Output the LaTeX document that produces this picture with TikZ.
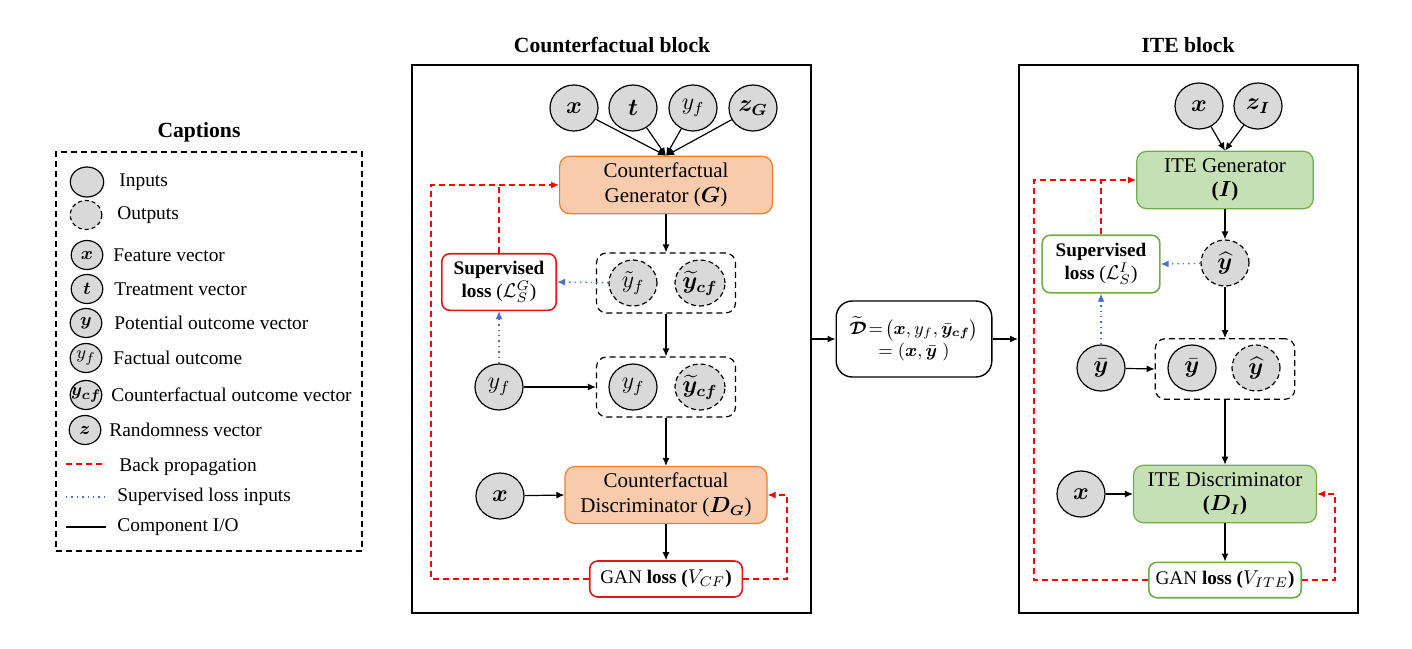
\documentclass[tikz,border=0pt]{standalone}
\usepackage{fontspec}
\setmainfont{Liberation Serif}
\usepackage{amsmath}
\usepackage{bm}
\usepackage{tikz}
\usetikzlibrary{shapes, arrows.meta, positioning, calc}

\definecolor{cfFill}{HTML}{F8CBAD}
\definecolor{cfLine}{HTML}{ED7D31}
\definecolor{iteFill}{HTML}{C5E0B4}
\definecolor{iteLine}{HTML}{70AD47}
\definecolor{bpRed}{HTML}{FF0000}
\definecolor{lossRed}{HTML}{E3161B}
\definecolor{supBlue}{HTML}{4472C4}
\definecolor{inGray}{HTML}{D9D9D9}

\begin{document}
\begin{tikzpicture}[x=0.5pt, y=-0.5pt, >={Latex[length=4pt, width=3.5pt]},
    font=\fontsize{10.5}{12.2}\selectfont,
    innode/.style={draw, ellipse, fill=inGray, line width=0.6pt, inner sep=0pt, minimum width=24pt, minimum height=23pt, font=\fontsize{11.5}{13}\selectfont},
    outnode/.style={innode, dash pattern=on 2.5pt off 1.5pt},
    legin/.style={innode, minimum width=15.8pt, minimum height=14.5pt, font=\fontsize{9.5}{10}\selectfont},
    legout/.style={legin, dash pattern=on 2pt off 1.5pt},
    legtext/.style={anchor=west, inner sep=0pt, font=\fontsize{9.7}{11}\selectfont},
    blocktitle/.style={font=\fontsize{10.8}{12}\selectfont\bfseries},
    blockframe/.style={draw, line width=1pt, minimum height=274pt},
    grpbox/.style={draw, dash pattern=on 3pt off 2pt, line width=0.6pt, rounded corners=5pt, minimum width=69.5pt, minimum height=30pt},
    cfbox/.style={draw=cfLine, fill=cfFill, line width=0.6pt, rounded corners=5pt, align=center, minimum height=28.7pt},
    itebox/.style={draw=iteLine, fill=iteFill, line width=0.6pt, rounded corners=5pt, align=center, minimum height=28.7pt},
    cfloss/.style={draw=lossRed, fill=white, line width=0.8pt, rounded corners=4pt, align=center, inner sep=1pt, font=\fontsize{9.6}{11.5}\selectfont},
    iteloss/.style={cfloss, draw=iteLine},
    backprop/.style={draw=bpRed, dash pattern=on 3pt off 2pt, line width=0.7pt},
    supin/.style={draw=supBlue, dotted, line width=0.7pt},
    io/.style={draw, line width=0.6pt}
]
    \useasboundingbox (0,0) rectangle (1412,648);

    % Captions
    \node[blocktitle] (captitle) at (199,132) {Captions};
    \node[draw, dash pattern=on 3pt off 2pt, line width=0.7pt, minimum width=153pt, minimum height=199.5pt] (capbox) at (209,351.5) {};
    \node[legin, minimum width=16.7pt, minimum height=15pt] (lgin) at (87,182) {};
    \node[legtext] (lgintxt) at (119,182) {Inputs};
    \node[legout] (lgout) at (86,215) {};
    \node[legtext] (lgouttxt) at (117,215) {Outputs};
    \node[legin] (lgx) at (87,255) {$\bm{x}$};
    \node[legtext] (lgxtxt) at (113,255) {Feature vector};
    \node[legin] (lgt) at (87,289) {$\bm{t}$};
    \node[legtext] (lgttxt) at (114,289) {Treatment vector};
    \node[legin] (lgy) at (86,323) {$\bm{y}$};
    \node[legtext] (lgytxt) at (114,323) {Potential outcome vector};
    \node[legin] (lgyf) at (86,358) {$y_f$};
    \node[legtext] (lgyftxt) at (113,358) {Factual outcome};
    \node[legin] (lgycf) at (86,395) {\makebox[0pt]{$\bm{y}_{\bm{cf}}$}};
    \node[legtext] (lgycftxt) at (111,395) {Counterfactual outcome vector};
    \node[legin] (lgz) at (85,430) {$\bm{z}$};
    \node[legtext] (lgztxt) at (109,430) {Randomness vector};
    \coordinate (bpa) at (66,464);
    \coordinate (bpb) at (106,464);
    \draw[backprop] (bpa) -- (bpb);
    \node[legtext] (lgbptxt) at (119,467) {Back propagation};
    \coordinate (sla) at (66,497);
    \coordinate (slb) at (106,497);
    \draw[supin] (sla) -- (slb);
    \node[legtext] (lgsltxt) at (117,497) {Supervised loss inputs};
    \coordinate (ioa) at (66,527);
    \coordinate (iob) at (106,527);
    \draw[io, line width=0.9pt] (ioa) -- (iob);
    \node[legtext] (lgiotxt) at (117,527) {Component I/O};

    % Counterfactual block
    \node[blocktitle] (cftitle) at (612,45) {Counterfactual block};
    \node[blockframe, minimum width=199.5pt] (cfblock) at (611.5,339) {};
    \node[innode] (cfx) at (574,108) {$\bm{x}$};
    \node[innode] (cft) at (633,108) {$\bm{t}$};
    \node[innode] (cfyf) at (693,108) {$y_f$};
    \node[innode] (cfz) at (753,108) {$\bm{z}_{\bm{G}}$};
    \node[cfbox, minimum width=106.4pt] (cfgen) at (666,185) {Counterfactual\\Generator (\textbf{$\bm{G}$})};
    \node[grpbox] (cfgrpa) at (666,283) {};
    \node[outnode] (cftyf) at (633,283) {$\tilde{y}_f$};
    \node[outnode] (cftycf) at (700,283) {$\widetilde{\bm{y}}_{\bm{cf}}$};
    \node[cfloss, minimum width=57.2pt, minimum height=28.3pt] (cfsup) at (499,282) {\textbf{Supervised}\\\textbf{loss} ($\mathcal{L}_S^G$)};
    \node[grpbox] (cfgrpb) at (666,387) {};
    \node[innode] (cfyfb) at (633,387) {$y_f$};
    \node[outnode] (cftycfb) at (700,387) {$\widetilde{\bm{y}}_{\bm{cf}}$};
    \node[innode] (cfyfin) at (499,387) {$y_f$};
    \node[cfbox, minimum width=101pt, minimum height=28.3pt] (cfdisc) at (666,495) {Counterfactual\\Discriminator (\textbf{$\bm{D}_{\bm{G}}$})};
    \node[innode] (cfxd) at (500,496) {$\bm{x}$};
    \node[cfloss, minimum width=76.3pt, minimum height=18pt] (cfgan) at (666,579) {GAN \textbf{loss (}$V_{CF}$\textbf{)}};
    \coordinate (cfleft) at (431,0);
    \coordinate (cfright) at (787,0);

    % Component I/O
    \foreach \src in {cfx, cft, cfyf, cfz}
        \draw[io, ->] (\src) -- (cfgen.north);
    \draw[io, ->] (cfgen.south) -- (cfgrpa.north);
    \draw[io, ->] (cfgrpa.south) -- (cfgrpb.north);
    \draw[io, ->] (cfyfin) -- (cfgrpb.west);
    \draw[io, ->] (cfgrpb.south) -- (cfdisc.north);
    \draw[io, ->] (cfxd) -- (cfdisc.west);
    \draw[io, ->] (cfdisc.south) -- (cfgan.north);
    % Supervised loss inputs
    \draw[supin, ->] (cftyf) -- (cfsup.east);
    \draw[supin, ->] (cfyfin) -- (cfsup.south);
    % Back propagation
    \draw[backprop, ->] (cfgan.west) -| (cfleft |- cfgen.west) -- (cfgen.west);
    \draw[backprop] (cfsup.north) -- (cfsup.north |- cfgen.west);
    \draw[backprop, ->] (cfgan.east) -| (cfright |- cfdisc.east) -- (cfdisc.east);

    % Dataset between the blocks
    \node[draw, rounded corners=8pt, line width=0.7pt, align=center, inner sep=1pt, minimum width=77.8pt, minimum height=38pt, font=\fontsize{9.2}{11}\selectfont] (dset) at (914,339)
        {$\widetilde{\bm{\mathcal{D}}}\!=\!\big(\bm{x},y_f,\bar{\bm{y}}_{\bm{cf}}\big)$\\$=(\bm{x}, \bar{\bm{y}}\;)$};

    % ITE block
    \node[blocktitle] (itetitle) at (1188,45) {ITE block};
    \node[blockframe, minimum width=169.5pt] (iteblock) at (1188.5,339) {};
    \draw[io, ->] (cfblock.east |- dset.west) -- (dset.west);
    \draw[io, ->] (dset.east) -- (iteblock.west |- dset.east);
    \node[innode] (itex) at (1199,106) {$\bm{x}$};
    \node[innode] (itez) at (1258,106) {$\bm{z}_{\bm{I}}$};
    \node[itebox, minimum width=88.3pt] (itegen) at (1225,180) {ITE Generator\\\textbf{(}$\bm{I}$\textbf{)}};
    \node[outnode] (iteyhat) at (1225,263) {$\widehat{\bm{y}}$};
    \node[iteloss, minimum width=58.8pt, minimum height=28.8pt] (itesup) at (1101,264) {\textbf{Supervised}\\\textbf{loss} ($\mathcal{L}_S^I$)};
    \node[grpbox, minimum width=69.8pt, minimum height=30.3pt] (itegrp) at (1225,369) {};
    \node[innode] (iteybar) at (1192,368) {$\bar{\bm{y}}$};
    \node[outnode] (iteyhatb) at (1256,368) {$\widehat{\bm{y}}$};
    \node[innode] (iteybarin) at (1101,368) {$\bar{\bm{y}}$};
    \node[itebox, minimum width=91.5pt] (itedisc) at (1225,494) {ITE Discriminator\\\textbf{(}$\bm{D}_{\bm{I}}$\textbf{)}};
    \node[innode] (itexd) at (1081,494) {$\bm{x}$};
    \node[iteloss, minimum width=76.2pt, minimum height=17.7pt] (itegan) at (1225,580) {GAN \textbf{loss (}$V_{ITE}$\textbf{)}};
    \coordinate (iteleft) at (1034,0);
    \coordinate (iteright) at (1335,0);

    % Component I/O
    \foreach \src in {itex, itez}
        \draw[io, ->] (\src) -- (itegen.north);
    \draw[io, ->] (itegen.south) -- (iteyhat.north);
    \draw[io, ->] (iteyhat.south) -- (itegrp.north);
    \draw[io, ->] (iteybarin) -- (itegrp.west);
    \draw[io, ->] (itegrp.south) -- (itedisc.north);
    \draw[io, ->] (itexd) -- (itedisc.west);
    \draw[io, ->] (itedisc.south) -- (itegan.north);
    % Supervised loss inputs
    \draw[supin, ->] (iteyhat) -- (itesup.east);
    \draw[supin, ->] (iteybarin) -- (itesup.south);
    % Back propagation
    \draw[backprop, ->] (itegan.west) -| (iteleft |- itegen.west) -- (itegen.west);
    \draw[backprop] (itesup.north) -- (itesup.north |- itegen.west);
    \draw[backprop, ->] (itegan.east) -| (iteright |- itedisc.east) -- (itedisc.east);
\end{tikzpicture}
\end{document}
